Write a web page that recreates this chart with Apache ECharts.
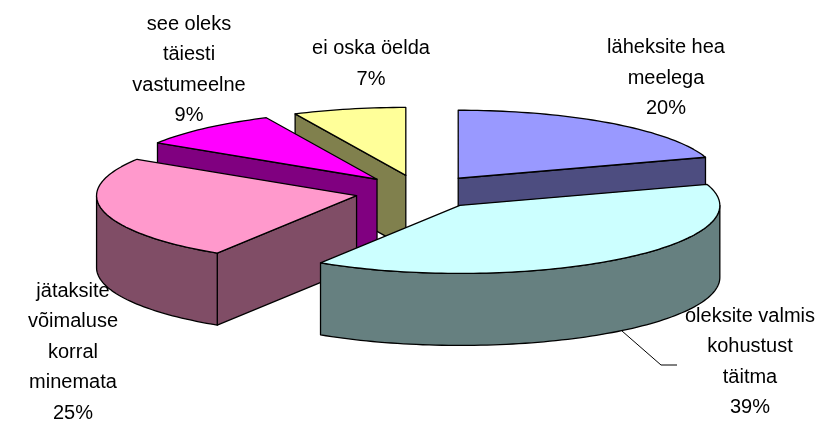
<!DOCTYPE html>
<html>
<head>
<meta charset="utf-8">
<title>Pie</title>
<script src="https://cdn.jsdelivr.net/npm/echarts@6/dist/echarts.min.js"></script>
<style>
html, body { margin: 0; padding: 0; background: #fff; }
#chart { width: 832px; height: 423px; }
</style>
</head>
<body>
<div id="chart"></div>
<script>
// data, clockwise from 12 o'clock
const categories = ['läheksite hea\nmeelega', 'oleksite valmis\nkohustust\ntäitma', 'jätaksite\nvõimaluse\nkorral\nminemata', 'see oleks\ntäiesti\nvastumeelne', 'ei oska öelda'];
const values = [20, 39, 25, 9, 7];

const topColors = ['#9999FF', '#CCFFFF', '#FF99CC', '#FF00FF', '#FFFF99'];
const sideColors = ['#4D4D80', '#668080', '#804D66', '#800080', '#80804D'];
// where each label is centred
const labelX = [666, 750, 73, 189, 371];
const labelY = [78, 362, 352, 70, 64];
const drawOrder = [4, 0, 3, 2, 1];   // back to front

// pie shape
const cx = 420, cy = 192, rx = 260, ry = 68, depth = 72, explode = 0.25;
const leader = [[622, 331], [661, 365], [677, 365]];

const total = values.reduce((a, b) => a + b, 0);

function rimPoint(ox, oy, ang, dy) {
    return [ox + rx * Math.sin(ang), oy - ry * Math.cos(ang) + (dy || 0)];
}

function arcPoints(ox, oy, a0, a1, dy) {
    const pts = [];
    const n = Math.max(2, Math.ceil((a1 - a0) * 40));
    for (let i = 0; i <= n; i++) {
        pts.push(rimPoint(ox, oy, a0 + (a1 - a0) * i / n, dy));
    }
    return pts;
}

function poly(points, fill) {
    return {
        type: 'polygon',
        shape: { points: points },
        style: { fill: fill, stroke: '#000', lineWidth: 1.3, lineJoin: 'round' }
    };
}

function renderSlice(params, api) {
    const idx = api.value(0);
    const before = drawOrder.length && values.slice(0, idx).reduce((a, b) => a + b, 0);
    const a0 = before / total * Math.PI * 2;
    const a1 = (before + api.value(1)) / total * Math.PI * 2;
    const mid = (a0 + a1) / 2;
    const ox = cx + explode * rx * Math.sin(mid);
    const oy = cy - explode * ry * Math.cos(mid);
    const side = sideColors[idx];
    const kids = [];

    // cut faces that look to the viewer
    if (Math.sin(a0) < -1e-6) {
        const r = rimPoint(ox, oy, a0);
        kids.push(poly([[ox, oy], r, [r[0], r[1] + depth], [ox, oy + depth]], side));
    }
    if (Math.sin(a1) > 1e-6) {
        const r = rimPoint(ox, oy, a1);
        kids.push(poly([[ox, oy], r, [r[0], r[1] + depth], [ox, oy + depth]], side));
    }
    // front part of the outer wall
    const w0 = Math.max(a0, Math.PI / 2), w1 = Math.min(a1, Math.PI * 1.5);
    if (w1 > w0) {
        const upper = arcPoints(ox, oy, w0, w1, 0);
        const lower = arcPoints(ox, oy, w0, w1, depth).reverse();
        kids.push(poly(upper.concat(lower), side));
    }
    // top
    kids.push(poly([[ox, oy]].concat(arcPoints(ox, oy, a0, a1, 0)), topColors[idx]));

    return { type: 'group', children: kids };
}

function renderLabel(params, api) {
    const idx = api.value(0);
    const pct = Math.round(api.value(1) / total * 100) + '%';
    return {
        type: 'text',
        style: {
            x: labelX[idx],
            y: labelY[idx],
            text: categories[idx] + '\n' + pct,
            fill: '#000',
            font: '20px "Liberation Sans", Arial, sans-serif',
            lineHeight: 30.5,
            align: 'center',
            verticalAlign: 'middle'
        }
    };
}

const myChart = echarts.init(document.getElementById('chart'), null, { renderer: 'canvas' });

// order the slices so nearer ones paint over farther ones
const sliceData = drawOrder.map(i => [i, values[i]]);
const labelData = values.map((v, i) => [i, v]);

myChart.setOption({
    animation: false,
    backgroundColor: '#fff',
    series: [
        {
            type: 'custom',
            coordinateSystem: 'none',
            renderItem: renderSlice,
            data: sliceData,
            silent: true,
            z: 2
        },
        {
            type: 'custom',
            coordinateSystem: 'none',
            renderItem: () => ({
                type: 'polyline',
                shape: { points: leader },
                style: { stroke: '#000', fill: null, lineWidth: 1 }
            }),
            data: [[0]],
            silent: true,
            z: 3
        },
        {
            type: 'custom',
            coordinateSystem: 'none',
            renderItem: renderLabel,
            data: labelData,
            silent: true,
            z: 4
        }
    ]
});
</script>
</body>
</html>
